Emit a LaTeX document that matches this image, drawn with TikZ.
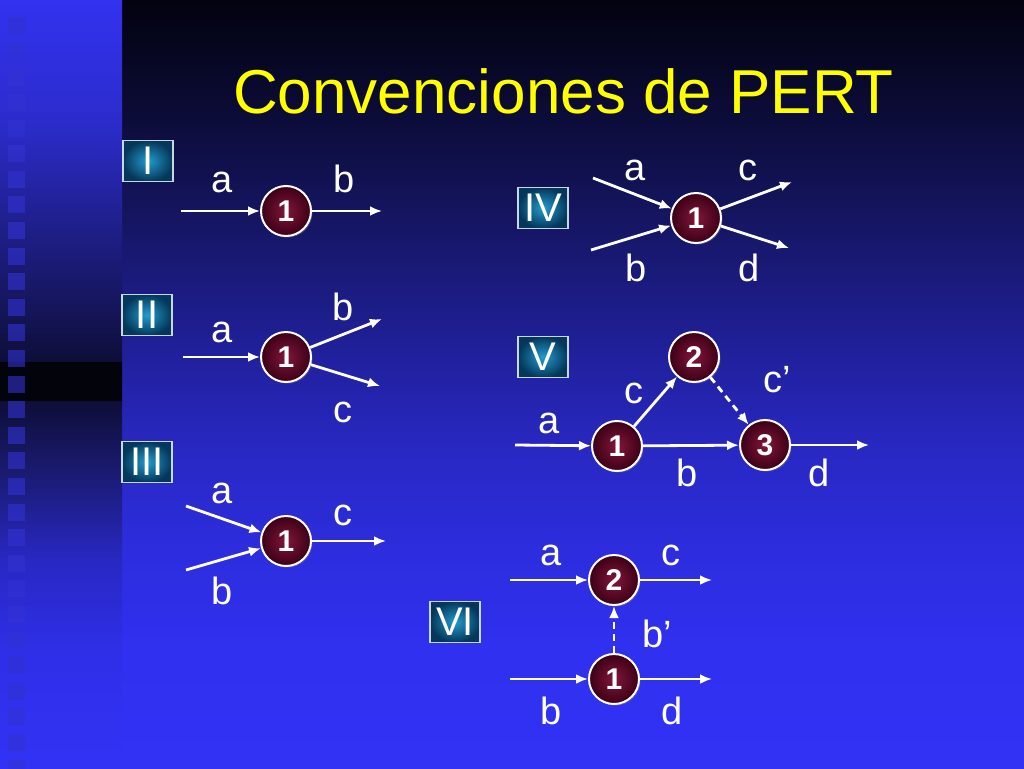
\documentclass[tikz,border=0pt]{standalone}
\usepackage{fontspec}
\setmainfont{Liberation Sans}
\usetikzlibrary{arrows.meta,shadows}
\pgfdeclareverticalshading{mainbg}{100bp}{%
  rgb(0bp)=(0.196,0.196,0.961);
  rgb(25bp)=(0.196,0.196,0.961);
  rgb(32.68bp)=(0.188,0.188,0.941);
  rgb(39.19bp)=(0.176,0.176,0.871);
  rgb(45.70bp)=(0.157,0.157,0.765);
  rgb(52.21bp)=(0.125,0.125,0.608);
  rgb(58.72bp)=(0.094,0.094,0.439);
  rgb(65.23bp)=(0.059,0.059,0.275);
  rgb(71.74bp)=(0.024,0.024,0.125);
  rgb(75bp)=(0.008,0.008,0.063);
  rgb(100bp)=(0.008,0.008,0.063)}
\pgfdeclareverticalshading{stripbg}{100bp}{%
  rgb(0bp)=(0.196,0.196,0.961);
  rgb(25bp)=(0.196,0.196,0.961);
  rgb(32.68bp)=(0.184,0.184,0.910);
  rgb(38.54bp)=(0.157,0.157,0.765);
  rgb(44.40bp)=(0.102,0.102,0.439);
  rgb(48.89bp)=(0.055,0.055,0.216);
  rgb(48.96bp)=(0.012,0.012,0.047);
  rgb(51.43bp)=(0.012,0.012,0.047);
  rgb(51.50bp)=(0.055,0.055,0.227);
  rgb(55.47bp)=(0.086,0.086,0.373);
  rgb(61.98bp)=(0.133,0.133,0.608);
  rgb(67.19bp)=(0.173,0.173,0.804);
  rgb(75bp)=(0.196,0.196,0.941);
  rgb(100bp)=(0.196,0.196,0.941)}
\definecolor{titley}{RGB}{255,255,0}
\definecolor{sqcol}{RGB}{50,50,210}
\definecolor{boxedge}{RGB}{200,215,225}
\definecolor{boxin}{RGB}{35,155,205}
\definecolor{boxout}{RGB}{4,55,90}
\definecolor{evin}{RGB}{130,22,58}
\definecolor{evout}{RGB}{60,0,22}
\tikzset{
  numbox/.style={draw=boxedge, line width=1.5pt, inner color=boxin, outer color=boxout,
    minimum width=50pt, minimum height=41pt, inner sep=0pt, text=white,
    font=\fontsize{40}{40}\selectfont},
  evt/.style={circle, minimum size=50pt, inner sep=0pt, draw=white, line width=2pt,
    inner color=evin, outer color=evout, text=white,
    font=\bfseries\fontsize{30}{30}\selectfont,
    drop shadow={shadow xshift=1.5pt, shadow yshift=-1.5pt, opacity=0.45}},
  lbl/.style={text=white, font=\fontsize{38}{38}\selectfont, anchor=base, inner sep=0pt},
  arr/.style={draw=white, line width=2.8pt, -{Latex[length=12pt,width=10pt]}},
  darr/.style={arr, dash pattern=on 7pt off 5pt},
  ttl/.style={text=titley, font=\fontsize{62}{62}\selectfont, anchor=base, inner sep=0pt}
}
\begin{document}
\begin{tikzpicture}[x=1pt,y=-1pt]
\useasboundingbox (0,0) rectangle (1024,768);
% background
\shade[shading=mainbg] (121,0) rectangle (1024,768);
\shade[shading=stripbg] (0,0) rectangle (122,768);
\foreach \k in {0,...,29} {
  \fill[sqcol, opacity=0.6] (8,17.2+25.6*\k) rectangle (25,34.2+25.6*\k);
}
% title
\node[ttl] (title) at (563.5,113) {Convenciones de PERT};

% I
\node[numbox] (bI) at (148,161) {I};
\node[evt] (I1) at (286,211) {1};
\coordinate (Iin) at (181,211);
\coordinate (Iout) at (382,211);
\node[lbl] (Ila) at (222,192) {a};
\node[lbl] (Ilb) at (344,192) {b};
\draw[arr] (Iin) -- (I1);
\draw[arr] (I1) -- (Iout);

% II
\node[numbox] (bII) at (147,315) {II};
\node[evt] (II1) at (286,357) {1};
\coordinate (IIin) at (183,357);
\coordinate (IIb) at (382,319);
\coordinate (IIc) at (380,386);
\node[lbl] (IIla) at (222,342) {a};
\node[lbl] (IIlb) at (343,320) {b};
\node[lbl] (IIlc) at (343,422) {c};
\draw[arr] (IIin) -- (II1);
\draw[arr] (II1) -- (IIb);
\draw[arr] (II1) -- (IIc);

% III
\node[numbox] (bIII) at (147,462) {III};
\node[evt] (III1) at (286,541) {1};
\coordinate (IIIa) at (186,506);
\coordinate (IIIb) at (186,570);
\coordinate (IIIc) at (386,541);
\node[lbl] (IIIla) at (222,503) {a};
\node[lbl] (IIIlc) at (343,525) {c};
\node[lbl] (IIIlb) at (222,604) {b};
\draw[arr] (IIIa) -- (III1);
\draw[arr] (IIIb) -- (III1);
\draw[arr] (III1) -- (IIIc);

% IV
\node[numbox] (bIV) at (543,208) {IV};
\node[evt] (IV1) at (696,218) {1};
\coordinate (IVa) at (593,178);
\coordinate (IVb) at (591,250);
\coordinate (IVc) at (792,182);
\coordinate (IVd) at (789,248);
\node[lbl] (IVla) at (635,180) {a};
\node[lbl] (IVlc) at (748,180) {c};
\node[lbl] (IVlb) at (636,281) {b};
\node[lbl] (IVld) at (749,281) {d};
\draw[arr] (IVa) -- (IV1);
\draw[arr] (IVb) -- (IV1);
\draw[arr] (IV1) -- (IVc);
\draw[arr] (IV1) -- (IVd);

% V
\node[numbox] (bV) at (543,357) {V};
\node[evt] (V1) at (617,446) {1};
\node[evt] (V2) at (694,357) {2};
\node[evt] (V3) at (765,445) {3};
\coordinate (Va) at (515,445);
\coordinate (Vd) at (869,445);
\node[lbl] (Vla) at (549,433) {a};
\node[lbl] (Vlc) at (634,403) {c};
\node[lbl] (Vlcp) at (777,392) {c’};
\node[lbl] (Vlb) at (687,486) {b};
\node[lbl] (Vld) at (819,486) {d};
\draw[arr] (Va) -- (V1);
\draw[arr] (V1) -- (V3);
\draw[arr] (V3) -- (Vd);
\draw[arr] (V1) -- (V2);
\draw[darr] (V2) -- (V3);

% VI
\node[numbox] (bVI) at (455,622) {VI};
\node[evt] (VI2) at (614,580) {2};
\node[evt] (VI1) at (614,679) {1};
\coordinate (VIa) at (510,580);
\coordinate (VIc) at (712,580);
\coordinate (VIb) at (510,679);
\coordinate (VId) at (712,679);
\node[lbl] (VIla) at (551,565) {a};
\node[lbl] (VIlc) at (671,565) {c};
\node[lbl] (VIlbp) at (657,647) {b’};
\node[lbl] (VIlb) at (551,724) {b};
\node[lbl] (VIld) at (672,724) {d};
\draw[arr] (VIa) -- (VI2);
\draw[arr] (VI2) -- (VIc);
\draw[arr] (VIb) -- (VI1);
\draw[arr] (VI1) -- (VId);
\draw[darr] (VI1) -- (VI2);
\end{tikzpicture}
\end{document}
